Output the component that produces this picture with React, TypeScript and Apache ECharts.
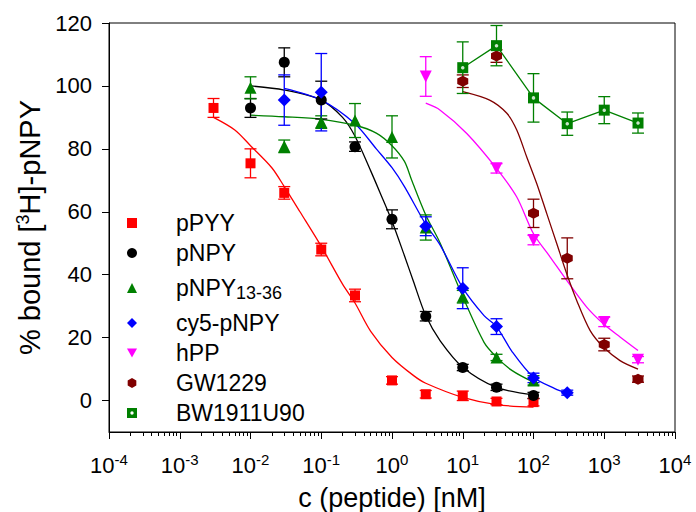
import { useEffect, useRef } from 'react';
import * as echarts from 'echarts';

// ---- data (concentration in nM, % bound) ----
const pPYY_c = [0.003, 0.01, 0.03, 0.1, 0.3, 1, 3, 10, 30, 100];
const pPYY_y = [93, 75.4, 66, 48, 33.4, 6.4, 2, 1.5, -0.3, -0.5];
const pPYY_err = [3, 4.6, 2, 2, 2, 1.2, 1.2, 1.5, 1, 1.2];
const pPYY_fitC = [0.003, 0.006, 0.01, 0.02, 0.03, 0.05, 0.1, 0.2, 0.3, 0.5, 1, 2, 3, 10, 30, 100];
const pPYY_fitY = [90, 86, 81, 74, 68, 60, 49, 37, 31, 22, 13.7, 8, 5.5, 1, -1.3, -2.1];

const pNPY_c = [0.01, 0.03, 0.1, 0.3, 1, 3, 10, 30, 100];
const pNPY_y = [93, 107.5, 95.5, 80.7, 57.6, 26.8, 10.5, 4.2, 1.6];
const pNPY_err = [3, 4.6, 6, 1.5, 3, 1.5, 1, 1, 1];
const pNPY_fitC = [0.01, 0.03, 0.1, 0.2, 0.3, 0.5, 0.68, 1, 1.5, 2, 3, 4.8, 10, 30, 100];
const pNPY_fitY = [100, 98.7, 95.5, 90, 84, 73, 66, 57, 46, 38, 27, 19, 10.6, 4.2, 1.8];

const pNPY1336_c = [0.01, 0.03, 0.1, 0.3, 1, 3, 10, 30, 100];
const pNPY1336_y = [99.4, 80.8, 88.5, 89, 83.8, 55, 33, 13.7, 6.4];
const pNPY1336_err = [3.5, 2, 2, 5.4, 6.7, 4, 2, 1, 1.5];
const pNPY1336_fitC = [0.01, 0.03, 0.1, 0.3, 0.6, 1, 1.5, 1.9, 3, 4.8, 10, 20, 30, 50, 100];
const pNPY1336_fitY = [90.7, 90.2, 89.4, 87.5, 85, 81, 76, 70, 59, 50, 33, 18.5, 13.8, 9.5, 5.8];

const cy5_c = [0.03, 0.1, 3, 10, 30, 100, 300];
const cy5_y = [95.5, 98, 55.4, 35.7, 23.5, 7.2, 2.5];
const cy5_err = [8, 12.3, 3, 6.5, 2.5, 1.5, 0.8];
const cy5_fitC = [0.03, 0.1, 0.3, 0.6, 1, 1.5, 3, 4.8, 10, 20, 30, 50, 100, 200, 300];
const cy5_fitY = [99.2, 95.5, 88, 80, 74, 68, 56, 49.4, 35.8, 27, 23.5, 15.5, 7.4, 3.8, 2.3];

const hPP_c = [3, 30, 100, 1000, 3000];
const hPP_y = [103, 73.8, 51, 25, 13];
const hPP_err = [6.3, 1.5, 1.5, 1.5, 1];
const hPP_fitC = [3, 4.8, 11.4, 30, 58, 100, 171, 295, 565, 971, 1671, 3000];
const hPP_fitY = [94.5, 92.3, 84.9, 73.8, 64.7, 53, 45.7, 38.2, 29.7, 24.4, 20.2, 15.9];

const GW_c = [10, 30, 100, 300, 1000, 3000];
const GW_y = [101.5, 109.5, 59.5, 45.2, 17.8, 6.8];
const GW_err = [2, 2, 4.5, 6.5, 2, 1];
const GW_fitC = [10, 24, 42, 58, 80, 111, 154, 213, 295, 408, 629, 971, 1671, 3000];
const GW_fitY = [98.2, 95.5, 91.3, 86, 77.5, 69, 59.4, 49.9, 40.3, 31.8, 22.3, 17, 12.7, 10];

const BW_c = [10, 30, 100, 300, 1000, 3000];
const BW_y = [105.8, 112.8, 96.2, 88, 92.3, 88.2];
const BW_err = [8.2, 6.4, 7.7, 3.7, 4.3, 3.2];

const yTicks = [0, 20, 40, 60, 80, 100, 120];

const FONT = 'Liberation Sans, Arial, sans-serif';
const HEX = 'path://M5,0L9.33,2.5L9.33,7.5L5,10L0.67,7.5L0.67,2.5Z';
const DOWN_TRI = 'path://M0,0L10,0L5,9Z';
const BW_ICON = 'path://M0,0H10V10H0Z M5,3.3A1.7,1.7 0 0 0 5,6.7A1.7,1.7 0 0 0 5,3.3Z';

type Set = {
  name: string; color: string; symbol: string; size: number;
  c: number[]; y: number[]; err: number[]; fitC?: number[]; fitY?: number[]; connect?: boolean;
};

const sets: Set[] = [
  { name: 'pPYY', color: '#ff0000', symbol: 'rect', size: 10, c: pPYY_c, y: pPYY_y, err: pPYY_err, fitC: pPYY_fitC, fitY: pPYY_fitY },
  { name: 'pNPY', color: '#000000', symbol: 'circle', size: 11, c: pNPY_c, y: pNPY_y, err: pNPY_err, fitC: pNPY_fitC, fitY: pNPY_fitY },
  { name: 'pNPY13-36', color: '#008000', symbol: 'triangle', size: 12, c: pNPY1336_c, y: pNPY1336_y, err: pNPY1336_err, fitC: pNPY1336_fitC, fitY: pNPY1336_fitY },
  { name: 'cy5-pNPY', color: '#0000ff', symbol: 'diamond', size: 13, c: cy5_c, y: cy5_y, err: cy5_err, fitC: cy5_fitC, fitY: cy5_fitY },
  { name: 'hPP', color: '#ff00ff', symbol: DOWN_TRI, size: 12, c: hPP_c, y: hPP_y, err: hPP_err, fitC: hPP_fitC, fitY: hPP_fitY },
  { name: 'GW1229', color: '#800000', symbol: HEX, size: 11, c: GW_c, y: GW_y, err: GW_err, fitC: GW_fitC, fitY: GW_fitY },
  { name: 'BW1911U90', color: '#008000', symbol: 'rect', size: 11, c: BW_c, y: BW_y, err: BW_err, connect: true },
];

function buildSeries() {
  const series: any[] = [];
  sets.forEach((s) => {
    const color = s.color;
    series.push({
      name: s.name + ' err',
      type: 'custom',
      z: 2,
      silent: true,
      encode: { x: 0, y: [1, 2] },
      data: s.c.map((c, i) => [Math.log10(c), s.y[i] - s.err[i], s.y[i] + s.err[i]]),
      renderItem: (_p: any, api: any) => {
        const x = api.value(0);
        const top = api.coord([x, api.value(2)]);
        const bot = api.coord([x, api.value(1)]);
        const w = 6;
        const st = { stroke: color, lineWidth: 1.3 };
        return {
          type: 'group',
          children: [
            { type: 'line', shape: { x1: top[0], y1: top[1], x2: bot[0], y2: bot[1] }, style: st },
            { type: 'line', shape: { x1: top[0] - w, y1: top[1], x2: top[0] + w, y2: top[1] }, style: st },
            { type: 'line', shape: { x1: bot[0] - w, y1: bot[1], x2: bot[0] + w, y2: bot[1] }, style: st },
          ],
        };
      },
    });
    if (s.fitC && s.fitY) {
      series.push({
        name: s.name + ' fit',
        type: 'line',
        z: 1,
        silent: true,
        smooth: 0.3,
        showSymbol: false,
        lineStyle: { color, width: 1.3 },
        data: s.fitC.map((c, i) => [Math.log10(c), s.fitY![i]]),
      });
    }
    if (s.connect) {
      series.push({
        name: s.name,
        type: 'line',
        z: 3,
        symbol: s.symbol,
        symbolSize: s.size,
        showSymbol: true,
        itemStyle: { color },
        lineStyle: { color, width: 1.3 },
        data: s.c.map((c, i) => [Math.log10(c), s.y[i]]),
      });
      series.push({
        name: s.name + ' dot',
        type: 'scatter',
        z: 4,
        silent: true,
        symbol: 'circle',
        symbolSize: 3.5,
        itemStyle: { color: '#ffffff' },
        data: s.c.map((c, i) => [Math.log10(c), s.y[i]]),
      });
    } else {
      series.push({
        name: s.name,
        type: 'scatter',
        z: 3,
        symbol: s.symbol,
        symbolSize: s.size,
        itemStyle: { color, opacity: 1 },
        data: s.c.map((c, i) => [Math.log10(c), s.y[i]]),
      });
    }
  });
  return series;
}

const minorTicks: number[] = [];
for (let d = -4; d < 4; d++) {
  for (let k = 2; k <= 9; k++) minorTicks.push(d + Math.log10(k));
}

export default function App() {
  const ref = useRef<HTMLDivElement>(null);
  useEffect(() => {
    if (!ref.current) return;
    const chart = echarts.init(ref.current, null, { renderer: 'svg' });
    chart.setOption({
      animation: false,
      backgroundColor: '#ffffff',
      textStyle: { fontFamily: FONT, color: '#000' },
      grid: {
        left: 109, right: 21, top: 23, bottom: 80,
        show: true, borderColor: '#000', borderWidth: 1,
        containLabel: false, outerBoundsMode: 'none',
      },
      legend: {
        orient: 'vertical',
        left: 127,
        top: 211,
        padding: 0,
        itemGap: 6,
        itemWidth: 10,
        itemHeight: 10,
        selectedMode: false,
        data: sets.map((s) => (s.name === 'BW1911U90' ? { name: s.name, icon: BW_ICON } : { name: s.name })),
        formatter: (n: string) => (n === 'pNPY13-36' ? '{b|pNPY}{sub|13-36}' : n),
        textStyle: {
          fontFamily: FONT,
          fontSize: 23,
          lineHeight: 24,
          color: '#000',
          padding: [0, 0, 0, 34],
          rich: {
            b: { fontFamily: FONT, fontSize: 23, lineHeight: 34, color: '#000' },
            sub: { fontFamily: FONT, fontSize: 18, lineHeight: 18, verticalAlign: 'bottom', padding: [0, 0, 3, 0], color: '#000' },
          },
        },
      },
      xAxis: [
        {
          type: 'value',
          min: -4,
          max: 4,
          interval: 1,
          position: 'bottom',
          name: 'c (peptide) [nM]',
          nameLocation: 'middle',
          nameGap: 51,
          nameTextStyle: { fontFamily: FONT, fontSize: 27, color: '#000', lineHeight: 30 },
          axisLine: { onZero: false, lineStyle: { color: '#000', width: 1 } },
          axisTick: { show: true, inside: false, length: 7, lineStyle: { color: '#000', width: 1 } },
          splitLine: { show: false },
          axisLabel: {
            margin: 20,
            color: '#000',
            formatter: (v: number) => `{m|10}{sup|${v}}`,
            rich: {
              m: { fontFamily: FONT, fontSize: 22, lineHeight: 26, color: '#000' },
              sup: { fontFamily: FONT, fontSize: 15, lineHeight: 15, verticalAlign: 'top', color: '#000' },
            },
          },
        },
        {
          type: 'value',
          min: -4,
          max: 4,
          position: 'bottom',
          axisLine: { show: false, onZero: false },
          axisLabel: { show: false },
          splitLine: { show: false },
          axisTick: { show: true, inside: false, length: 4, customValues: minorTicks, lineStyle: { color: '#000', width: 1 } },
        },
      ],
      yAxis: {
        type: 'value',
        min: -10,
        max: 120,
        name: '{m|% bound [}{sup|3}{m|H]-pNPY}',
        nameLocation: 'middle',
        nameGap: 60,
        nameTextStyle: {
          fontFamily: FONT,
          color: '#000',
          rich: {
            m: { fontFamily: FONT, fontSize: 29, lineHeight: 32, color: '#000' },
            sup: { fontFamily: FONT, fontSize: 18, lineHeight: 18, verticalAlign: 'top', color: '#000' },
          },
        },
        axisLine: { onZero: false, lineStyle: { color: '#000', width: 1 } },
        axisTick: { show: true, inside: false, length: 7, customValues: yTicks, lineStyle: { color: '#000', width: 1 } },
        splitLine: { show: false },
        axisLabel: { customValues: yTicks, margin: 17, fontFamily: FONT, fontSize: 22, color: '#000' },
      },
      series: buildSeries(),
    });
    return () => chart.dispose();
  }, []);
  return <div ref={ref} style={{ width: 696, height: 512, position: 'absolute', left: 0, top: 0 }} />;
}
